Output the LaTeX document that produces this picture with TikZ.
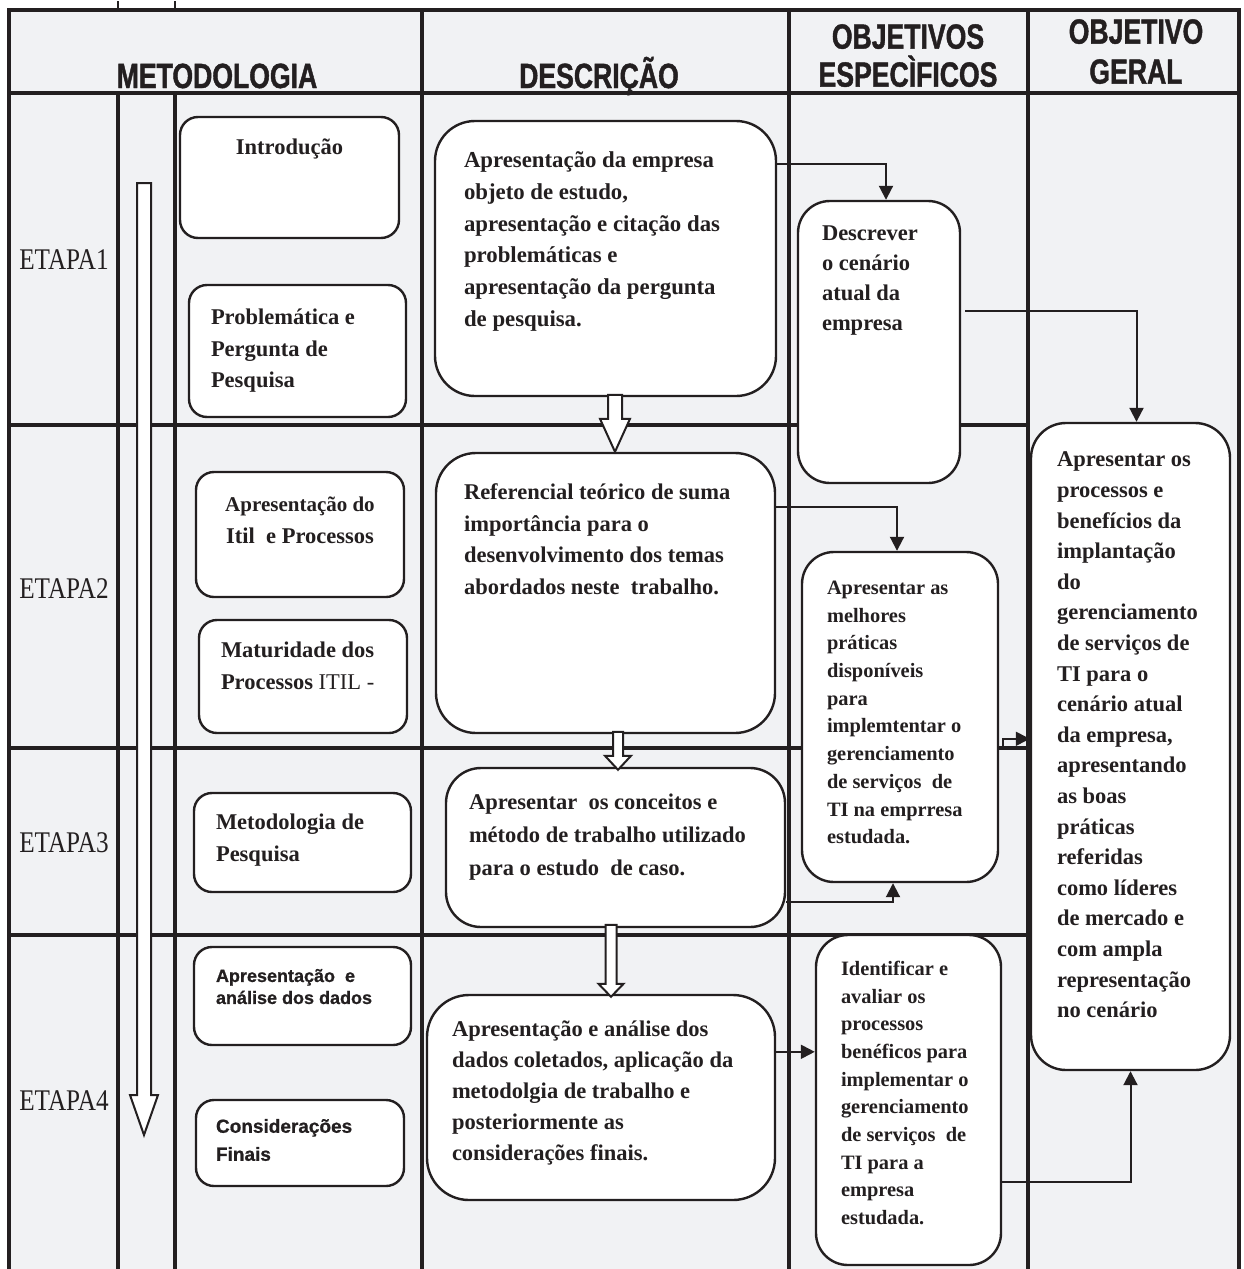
\documentclass[tikz,border=0pt]{standalone}
\usepackage{fontspec}
\setmainfont{Liberation Serif}
\newfontfamily\hdfont[FakeStretch=0.76, FakeBold=1.2]{Liberation Sans Bold}
\newfontfamily\etfont[FakeStretch=0.84]{Liberation Serif}
\newfontfamily\arialfont[FakeBold=0.8]{Liberation Sans Bold}
\usepackage{tikz}
\usetikzlibrary{
  arrows.meta,
  calc,
  positioning,
  fit
}
\definecolor{ink}{RGB}{35,31,32}
\definecolor{cellgray}{RGB}{241,242,244}

\begin{document}
\begin{tikzpicture}[
  x=1pt, y=-1pt,
  grid/.style={draw=ink, line width=3.4pt},
  box/.style={draw=ink, fill=white, line width=2.4pt, rounded corners=18pt, inner sep=0pt},
  txt/.style={anchor=north west, inner sep=0pt, align=left, text=ink,
              font=\bfseries\fontsize{22.5}{31.5}\selectfont},
  smalltxt/.style={txt, font=\bfseries\fontsize{20.4}{27.7}\selectfont},
  sanstxt/.style={txt, font=\arialfont\fontsize{18}{22}\selectfont},
  head/.style={inner sep=0pt, align=center, text=ink,
               font=\hdfont\fontsize{35}{38}\selectfont},
  etapa/.style={inner sep=0pt, text=ink, font=\etfont\fontsize{30}{30}\selectfont},
  arr/.style={-{Triangle[length=14pt, width=14pt]}, draw=ink, line width=2pt},
  hollow/.style={draw=ink, fill=white, line width=2pt, line join=miter}
]
  \useasboundingbox (0,0) rectangle (1243,1269);
  \fill[cellgray] (9,10) rectangle (1239,1269);

  % table
  \draw[grid] (9,1269) -- (9,10) -- (1239,10) -- (1239,1269);
  \draw[grid] (9,93) -- (1239,93);
  \foreach \x in {422,789,1028} \draw[grid] (\x,10) -- (\x,1269);
  \foreach \x in {118,175} \draw[grid] (\x,93) -- (\x,1269);
  \foreach \y in {425,748,935} \draw[grid] (9,\y) -- (1028,\y);
  \foreach \x in {118,175} \draw[ink, line width=1.5pt] (\x,1) -- (\x,10);

  % header
  \node[head, anchor=base] (hmet) at (217,88) {METODOLOGIA};
  \node[head, anchor=base] (hdesc) at (599,88) {DESCRIÇÃO};
  \node[head, anchor=north] (hobj) at (908,24) {OBJETIVOS\\ESPECÌFICOS};
  \node[head, anchor=north, font=\hdfont\fontsize{35}{40}\selectfont]
    (hger) at (1136,19) {OBJETIVO\\GERAL};

  % stages
  \node[etapa] (et1) at (64,260) {ETAPA1};
  \node[etapa] (et2) at (64,589) {ETAPA2};
  \node[etapa] (et3) at (64,843) {ETAPA3};
  \node[etapa] (et4) at (64,1101) {ETAPA4};
  \draw[hollow] (137,183) -- (151,183) -- (151,1095) -- (158,1095)
    -- (144,1135) -- (130,1095) -- (137,1095) -- cycle;

  % methodology column
  \node[box, fit={(180,117) (399,238)}] (intro) {};
  \node[txt, below=23pt of intro.north] (introtxt) {Introdução};
  \node[box, fit={(189,285) (406,417)}] (probl) {};
  \node[txt, below right=25pt and 23pt of probl.north west] (probltxt)
    {Problemática e\\Pergunta de\\Pesquisa};
  \node[box, fit={(196,472) (404,597)}] (itil) {};
  \node[txt, align=center, below=26pt of itil.north] (itiltxt)
    {{\fontsize{21}{31.5}\selectfont Apresentação do}\\Itil\ \ e Processos};
  \node[box, fit={(199,620) (407,733)}] (matur) {};
  \node[txt, below right=23pt and 23pt of matur.north west] (maturtxt)
    {Maturidade dos\\Processos {\mdseries ITIL -}};
  \node[box, fit={(194,793) (411,892)}] (metod) {};
  \node[txt, below right=22pt and 23pt of metod.north west] (metodtxt)
    {Metodologia de\\Pesquisa};
  \node[box, fit={(194,947) (411,1045)}] (anal) {};
  \node[sanstxt, below right=23pt and 23pt of anal.north west] (analtxt)
    {Apresentação\ \ e\\análise dos dados};
  \node[box, fit={(196,1100) (404,1186)}] (consid) {};
  \node[sanstxt, font=\arialfont\fontsize{19}{28}\selectfont,
    below right=20pt and 21pt of consid.north west] (considtxt)
    {Considerações\\Finais};

  % description column
  \node[box, rounded corners=40pt, fit={(435,121) (776,396)}] (descA) {};
  \node[txt, below right=32pt and 30pt of descA.north west, font=\bfseries\fontsize{22.8}{31.7}\selectfont]
    (descAtxt) {Apresentação da empresa\\objeto de estudo,\\apresentação e citação das\\problemáticas e\\apresentação da pergunta\\de pesquisa.};
  \node[box, rounded corners=40pt, fit={(436,453) (775,733)}] (descB) {};
  \node[txt, below right=32pt and 29pt of descB.north west] (descBtxt)
    {Referencial teórico de suma\\importância para o\\desenvolvimento dos temas\\abordados neste\ \ trabalho.};
  \node[box, rounded corners=35pt, fit={(446,768) (785,927)}] (descC) {};
  \node[txt, below right=27pt and 24pt of descC.north west, font=\bfseries\fontsize{22.5}{33}\selectfont]
    (descCtxt) {Apresentar\ \ os conceitos e\\método de trabalho utilizado\\para o estudo\ \ de caso.};
  \node[box, rounded corners=42pt, fit={(427,995) (775,1200)}] (descD) {};
  \node[txt, below right=27pt and 26pt of descD.north west, font=\bfseries\fontsize{22.5}{31}\selectfont]
    (descDtxt) {Apresentação e análise dos\\dados coletados, aplicação da\\metodolgia de trabalho e\\posteriormente as\\considerações finais.};

  % specific objectives
  \node[box, rounded corners=32pt, fit={(798,201) (960,483)}] (objE) {};
  \node[txt, below right=26pt and 25pt of objE.north west, font=\bfseries\fontsize{22.5}{30}\selectfont]
    (objEtxt) {Descrever\\o cenário\\atual da\\empresa};
  \node[box, rounded corners=32pt, fit={(802,552) (998,882)}] (objF) {};
  \node[smalltxt, below right=30pt and 26pt of objF.north west] (objFtxt)
    {Apresentar as\\melhores\\práticas\\disponíveis\\para\\implemtentar o\\gerenciamento\\de serviços\ \ de\\TI na emprresa\\estudada.};
  \node[box, rounded corners=32pt, fit={(816,935) (1001,1265)}] (objG) {};
  \node[smalltxt, below right=27pt and 26pt of objG.north west] (objGtxt)
    {Identificar e\\avaliar os\\processos\\benéficos para\\implementar o\\gerenciamento\\de serviços\ \ de\\TI para a\\empresa\\estudada.};

  % general objective
  \node[box, rounded corners=35pt, fit={(1031,423) (1230,1070)}] (geral) {};
  \node[txt, below right=30pt and 27pt of geral.north west, font=\bfseries\fontsize{22.5}{30.6}\selectfont]
    (geraltxt) {Apresentar os\\processos e\\benefícios da\\implantação\\do\\gerenciamento\\de serviços de\\TI para o\\cenário atual\\da empresa,\\apresentando\\as boas\\práticas\\referidas\\como líderes\\de mercado e\\com ampla\\representação\\no cenário};

  % connectors
  \draw[arr] ($(descA.north east)+(0,44)$) -| ($(objE.north)+(7,0)$);
  \draw[arr] ($(objE.north east)+(4,111)$) -| ($(geral.north)+(6,0)$);
  \draw[arr] ($(descB.north east)+(0,55)$) -| ($(objF.north)+(-3,0)$);
  \draw[arr] ($(objF.north east)+(0,196)$) -- ++(4,0) |- ($(geral.north west)+(0,317)$);
  \draw[arr] ($(descC.north east)+(0,135)$) -| ($(objF.south)+(-7,0)$);
  \draw[arr] ($(descD.north east)+(0,58)$) -- ($(objG.north west)+(0,118)$);
  \draw[arr] ($(objG.north east)+(0,248)$) -| (geral.south);

  % hollow arrows between stages
  \draw[hollow] ($(descB.north)+(9.5,0)$) -- ++(-15,-33) -- ++(8,0) -- ++(0,-24)
    -- ++(14,0) -- ++(0,24) -- ++(8,0) -- cycle;
  \draw[hollow] ($(descC.north)+(2.5,3)$) -- ++(-13,-14) -- ++(8,0) -- ++(0,-24)
    -- ++(10,0) -- ++(0,24) -- ++(8,0) -- cycle;
  \draw[hollow] ($(descD.north)+(10,3)$) -- ++(-12.5,-13) -- ++(7,0) -- ++(0,-59)
    -- ++(11,0) -- ++(0,59) -- ++(7,0) -- cycle;
\end{tikzpicture}
\end{document}
